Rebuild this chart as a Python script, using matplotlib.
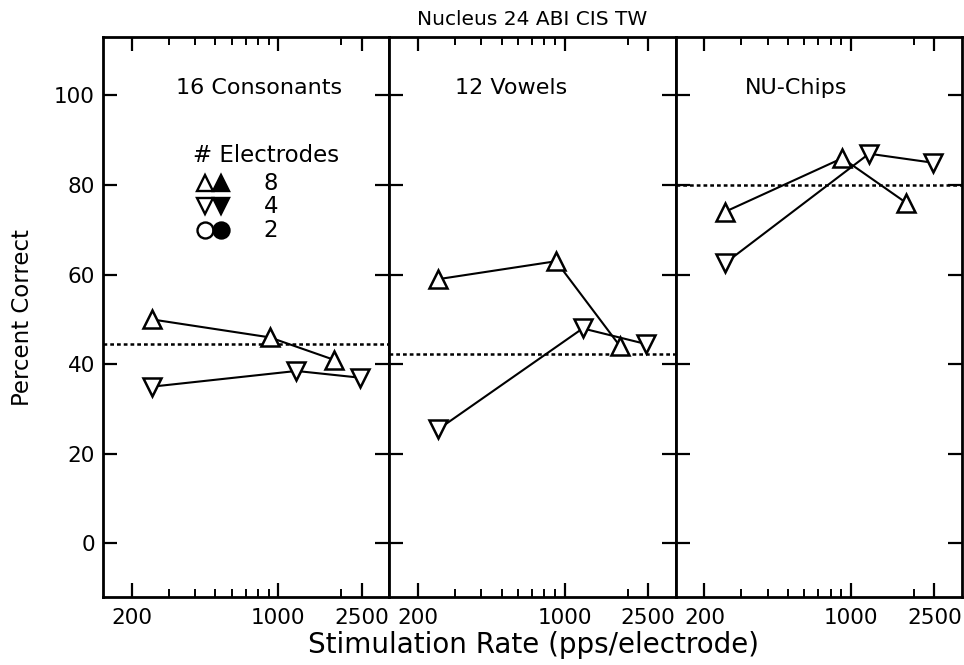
import numpy as np
import matplotlib
matplotlib.use('Agg')
import matplotlib.pyplot as plt
from matplotlib.ticker import FixedLocator, NullFormatter

# stimulation rates (pps/electrode)
rate_8 = [250, 910, 1840]
rate_4 = [250, 1220, 2450]

panels = ['16 Consonants', '12 Vowels', 'NU-Chips']
score_8 = [[50, 46, 41], [59, 63, 44], [74, 86, 76]]
score_4 = [[35, 38.5, 37], [25.5, 48, 44.5], [62.5, 87, 85]]
reference = [44.5, 42.3, 80]

title_x = [0.545, 0.425, 0.42]

major_x = [200, 1000, 2500]
minor_x = [300, 400, 500, 600, 700, 800, 900, 2000]
y_ticks = [0, 20, 40, 60, 80, 100]

plt.rcParams['font.family'] = 'DejaVu Sans'
plt.rcParams['font.size'] = 14

fig, axes = plt.subplots(1, 3, figsize=(9.64, 6.65), dpi=100, sharey=True)
fig.subplots_adjust(left=0.107, right=0.998, top=0.944, bottom=0.102, wspace=0)

for k, ax in enumerate(axes):
    ax.set_xscale('log')
    ax.set_xlim(146, 3390)
    ax.set_ylim(-12, 113)
    ax.plot(rate_8, score_8[k], color='black', lw=1.5, marker='^', ms=13,
            mfc='white', mec='black', mew=1.8, zorder=3)
    ax.plot(rate_4, score_4[k], color='black', lw=1.5, marker='v', ms=13,
            mfc='white', mec='black', mew=1.8, zorder=3)
    ax.axhline(reference[k], color='black', lw=1.8, ls=(0, (1.5, 1.2)), zorder=2)
    ax.text(title_x[k], 0.909, panels[k], transform=ax.transAxes,
            ha='center', va='center', fontsize=16)

    ax.xaxis.set_major_locator(FixedLocator(major_x))
    ax.xaxis.set_minor_locator(FixedLocator(minor_x))
    ax.xaxis.set_minor_formatter(NullFormatter())
    ax.set_xticklabels([str(v) for v in major_x])
    ax.set_yticks(y_ticks)
    ax.tick_params(axis='both', which='major', direction='in', length=10, width=1.6,
                   top=True, right=True, labelsize=15.5)
    ax.tick_params(axis='x', which='minor', direction='in', length=6, width=1.4,
                   top=True, bottom=True)
    ax.tick_params(axis='x', which='major', pad=8)
    ax.tick_params(axis='y', which='major', pad=6)
    for s in ax.spines.values():
        s.set_linewidth(2)

# legend drawn inside first panel
ax = axes[0]
ax.text(0.315, 0.789, '# Electrodes', transform=ax.transAxes, ha='left', va='center', fontsize=16.5)
rows = [('^', '8', 0.739), ('v', '4', 0.698), ('o', '2', 0.655)]
for m, lab, yy in rows:
    ax.plot([0.355], [yy], marker=m, ms=11.5, mfc='white', mec='black', mew=1.7,
            transform=ax.transAxes, clip_on=False)
    ax.plot([0.41], [yy], marker=m, ms=11.5, mfc='black', mec='black', mew=1.7,
            transform=ax.transAxes, clip_on=False)
    ax.text(0.56, yy, lab, transform=ax.transAxes, ha='left', va='center', fontsize=16.5)

axes[0].set_ylabel('Percent Correct', fontsize=16.5, labelpad=14)
axes[1].set_title('Nucleus 24 ABI CIS TW', fontsize=14.5, pad=9)
fig.text(0.553, 0.03, 'Stimulation Rate (pps/electrode)', ha='center', va='center', fontsize=20)

fig.savefig('out.png', dpi=100)
